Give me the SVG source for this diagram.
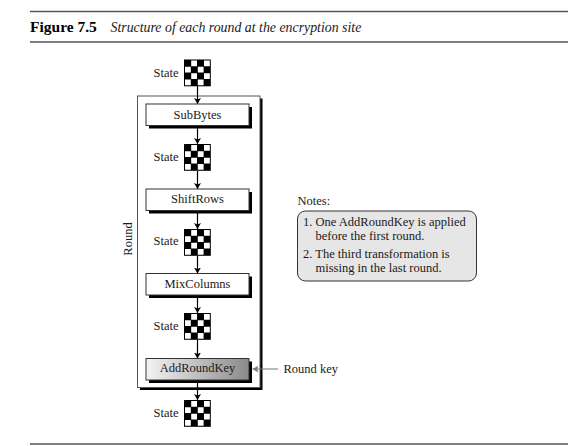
<svg xmlns="http://www.w3.org/2000/svg" width="585" height="446" viewBox="0 0 585 446">
<style>
text{font-family:"Liberation Serif","Times New Roman",serif;font-size:12.5px;fill:#1a1a1a}
.c{text-anchor:middle}
.rule{stroke:#555;stroke-width:1.4;fill:none}
.conn{stroke:#000;stroke-width:1.2;fill:none;marker-end:url(#a)}
.box{stroke:#333;stroke-width:1}
.shadow{fill:#000}
</style>
<defs>
<marker id="a" markerUnits="userSpaceOnUse" markerWidth="7" markerHeight="7" refX="6" refY="3.5" orient="auto"><path d="M0 0L6 3.5L0 7L1.5 3.5Z" fill="#000"/></marker>
<marker id="g" markerUnits="userSpaceOnUse" markerWidth="7" markerHeight="7" refX="6" refY="3.5" orient="auto"><path d="M0 0L6 3.5L0 7L1.5 3.5Z" fill="#777"/></marker>
<linearGradient id="grad" x1="0" x2="1" y1="0" y2="0"><stop offset="0" stop-color="#f4f4f4"/><stop offset="1" stop-color="#8a8a8a"/></linearGradient>
<g id="grid">
<rect width="26.8" height="26.8" fill="#000"/>
<path fill="#fff" d="M7.200 1h5.800v5.800H7.200zM20 1h5.800v5.800H20zM1 7.200h5.800v5.800H1zM13.800 7.200h5.800v5.800h-5.800zM7.200 13.800h5.800v5.800H7.200zM20 13.800h5.800v5.800H20zM1 20h5.800v5.800H1zM13.800 20h5.800v5.800h-5.800z"/>
</g>
</defs>
<path class="rule" d="M30 11.500H568M30 42H568M30 444H568"/>
<text x="30" y="32" style="font-size:15.500px;font-weight:bold;fill:#000">Figure 7.5</text>
<text x="110.500" y="32" style="font-size:13.850px;font-style:italic">Structure of each round at the encryption site</text>

<g id="round">
<rect class="shadow" x="140" y="98.500" width="122.500" height="291.500"/>
<rect x="137.500" y="96" width="122.500" height="291.500" fill="#fff" stroke="#555" stroke-width="1"/>
<text transform="translate(131.500 239) rotate(-90)" class="c">Round</text>
</g>

<g id="connectors">
<path class="conn" d="M197.500 86V104"/>
<path class="conn" d="M197.500 126V144"/>
<path class="conn" d="M197.500 171V189"/>
<path class="conn" d="M197.500 211V229"/>
<path class="conn" d="M197.500 256V273.500"/>
<path class="conn" d="M197.500 296V313"/>
<path class="conn" d="M197.500 340V358.500"/>
<path class="conn" d="M197.500 381V400"/>
<path d="M278 369H252.500" fill="none" stroke="#777" stroke-width="1" marker-end="url(#g)"/>
</g>

<g id="state0"><use href="#grid" x="184" y="59.500"/><text x="178.500" y="77" style="text-anchor:end">State</text></g>
<g id="subbytes"><rect class="shadow" x="149" y="107" width="103" height="21.500"/><rect class="box" x="146" y="104" width="103" height="21.500" fill="#fff"/><text class="c" x="197.500" y="118.500">SubBytes</text></g>
<g id="state1"><use href="#grid" x="184" y="144"/><text x="178.500" y="161" style="text-anchor:end">State</text></g>
<g id="shiftrows"><rect class="shadow" x="149" y="192" width="103" height="21.500"/><rect class="box" x="146" y="189" width="103" height="21.500" fill="#fff"/><text class="c" x="197.500" y="203">ShiftRows</text></g>
<g id="state2"><use href="#grid" x="184" y="229"/><text x="178.500" y="245" style="text-anchor:end">State</text></g>
<g id="mixcolumns"><rect class="shadow" x="149" y="276.500" width="103" height="21.500"/><rect class="box" x="146" y="273.500" width="103" height="21.500" fill="#fff"/><text class="c" x="197.500" y="287.500">MixColumns</text></g>
<g id="state3"><use href="#grid" x="184" y="313"/><text x="178.500" y="330" style="text-anchor:end">State</text></g>
<g id="addroundkey"><rect class="shadow" x="149" y="361.500" width="103" height="21.500"/><rect class="box" x="146" y="358.500" width="103" height="21.500" fill="url(#grad)"/><text class="c" x="197.500" y="372">AddRoundKey</text></g>
<g id="state4"><use href="#grid" x="184" y="400"/><text x="178.500" y="417" style="text-anchor:end">State</text></g>
<g id="roundkey"><text x="283.500" y="373">Round key</text></g>

<g id="notes">
<text x="297.500" y="205">Notes:</text>
<rect x="297.500" y="211" width="179" height="70" rx="8" fill="#e6e6e6" stroke="#333" stroke-width="1"/>
<text x="303" y="226">1. One AddRoundKey is applied</text>
<text x="315.500" y="240">before the first round.</text>
<text x="303" y="258">2. The third transformation is</text>
<text x="315.500" y="272">missing in the last round.</text>
</g>
</svg>
